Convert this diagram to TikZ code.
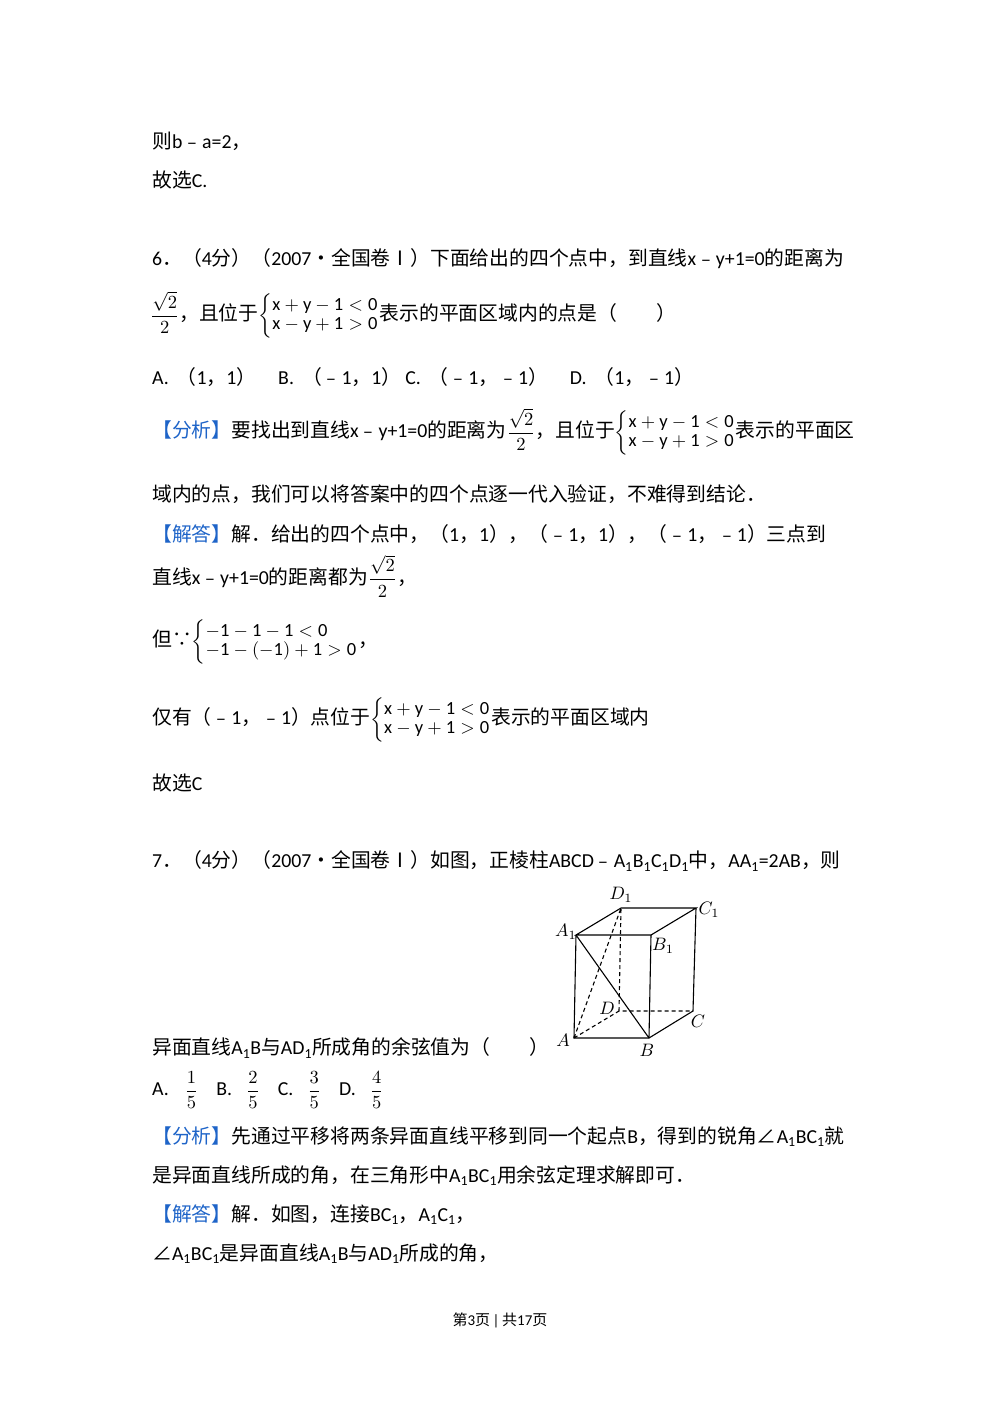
\documentclass[tikz,border=0pt]{standalone}
\usepackage{graphicx}
\usepackage{fontspec}
\setmainfont{Carlito}
\newfontfamily\cjk{Noto Sans CJK SC}
\newcommand\zh[1]{{\cjk #1}}
\newcommand\subn[1]{\textsubscript{#1}}
\newcommand\sysx[2]{\scalebox{1.85}{\fontsize{10}{12}\selectfont$\left\{\renewcommand\arraystretch{0.85}\begin{array}{@{}l@{}}\mathrm{#1}\\\mathrm{#2}\end{array}\right.$}}
\newcommand\hf{\scalebox{1.85}{\fontsize{10}{12}\selectfont$\displaystyle\frac{\sqrt{2}}{2}$}}
\newcommand\fr[1]{\scalebox{1.85}{\fontsize{10}{12}\selectfont$\displaystyle\frac{#1}{5}$}}
\definecolor{hb}{RGB}{30,100,200}
\begin{document}
\begin{tikzpicture}[x=1pt,y=-1pt,
 t/.style={anchor=west,inner sep=0pt,font=\fontsize{19.8}{23}\selectfont},
 e/.style={line width=1.1pt},
 h/.style={line width=1.1pt,dash pattern=on 4pt off 3pt},
 lab/.style={inner sep=0pt,font=\fontsize{10}{12}\selectfont}]
\useasboundingbox (0,0) rectangle (1000,1414);
\node[t] (l1) at (152,141) {\zh{则}b\zh{﹣}a=2\zh{，}};
\node[t] (l2) at (152,180) {\zh{故选}C.};
\node[t] (l3) at (152,259) {6\zh{．（}4\zh{分）（}2007\zh{•全国卷Ⅰ）下面给出的四个点中，到直线}x\zh{﹣}y+1=0\zh{的距离为}};
\node[t] (l4) at (150,315) {\hf\zh{，且位于}\sysx{x+y-1<0}{x-y+1>0}\zh{表示的平面区域内的点是（　　）}};
\node[t] (l5) at (152,377) {A.\hspace{8pt}\zh{（}1\zh{，}1\zh{）}\hspace{22pt}B.\hspace{8pt}\zh{（﹣}1\zh{，}1\zh{）}\hspace{4pt}C.\hspace{8pt}\zh{（﹣}1\zh{，﹣}1\zh{）}\hspace{22pt}D.\hspace{8pt}\zh{（}1\zh{，﹣}1\zh{）}};
\node[t] (l6) at (152,432) {\textcolor{hb}{\zh{【分析】}}\zh{要找出到直线}x\zh{﹣}y+1=0\zh{的距离为}\hf\zh{，且位于}\sysx{x+y-1<0}{x-y+1>0}\zh{表示的平面区}};
\node[t] (l7) at (152,494) {\zh{域内的点，我们可以将答案中的四个点逐一代入验证，不难得到结论．}};
\node[t] (l8) at (152,534) {\textcolor{hb}{\zh{【解答】}}\zh{解．给出的四个点中，（}1\zh{，}1\zh{），（﹣}1\zh{，}1\zh{），（﹣}1\zh{，﹣}1\zh{）三点到}};
\node[t] (l9) at (152,576) {\zh{直线}x\zh{﹣}y+1=0\zh{的距离都为}\hf\zh{，}};
\node[t] (l10) at (152,642) {\zh{但∵}\sysx{-1-1-1<0}{-1-(-1)+1>0}\zh{，}};
\node[t] (l11) at (152,720) {\zh{仅有（﹣}1\zh{，﹣}1\zh{）点位于}\sysx{x+y-1<0}{x-y+1>0}\zh{表示的平面区域内}};
\node[t] (l12) at (152,783) {\zh{故选}C};
\node[t] (l13) at (152,861) {7\zh{．（}4\zh{分）（}2007\zh{•全国卷Ⅰ）如图，正棱柱}ABCD\zh{﹣}A\subn1B\subn1C\subn1D\subn1\zh{中，}AA\subn1=2AB\zh{，则}};
\node[t] (l14) at (152,1048) {\zh{异面直线}A\subn1B\zh{与}AD\subn1\zh{所成角的余弦值为（　　）}};
\node[t] (l15) at (152,1090) {A.\hspace{16pt}\fr1\hspace{18pt}B.\hspace{14pt}\fr2\hspace{18pt}C.\hspace{14pt}\fr3\hspace{18pt}D.\hspace{14pt}\fr4};
\node[t] (l16) at (152,1137) {\textcolor{hb}{\zh{【分析】}}\zh{先通过平移将两条异面直线平移到同一个起点}B\zh{，得到的锐角∠}A\subn1BC\subn1\zh{就}};
\node[t] (l17) at (152,1176) {\zh{是异面直线所成的角，在三角形中}A\subn1BC\subn1\zh{用余弦定理求解即可．}};
\node[t] (l18) at (152,1215) {\textcolor{hb}{\zh{【解答】}}\zh{解．如图，连接}BC\subn1\zh{，}A\subn1C\subn1\zh{，}};
\node[t] (l19) at (152,1254) {\zh{∠}A\subn1BC\subn1\zh{是异面直线}A\subn1B\zh{与}AD\subn1\zh{所成的角，}};
\node[inner sep=0pt,font=\fontsize{15}{17}\selectfont] (ft) at (500,1320) {\zh{第}3\zh{页}\,|\,\zh{共}17\zh{页}};
\coordinate (A1) at (576,935); \coordinate (B1) at (651,935);
\coordinate (C1) at (696,908); \coordinate (D1) at (621,908);
\coordinate (A) at (574,1038); \coordinate (B) at (649,1038);
\coordinate (C) at (693,1011); \coordinate (D) at (619,1011);
\draw[e] (A1)--(B1)--(C1)--(D1)--cycle;
\draw[e] (A1)--(A)--(B)--(C)--(C1);
\draw[e] (B1)--(B) (A1)--(B);
\draw[h] (A)--(D)--(C) (D)--(D1) (A)--(D1);
\node[lab] (tA1) at (566,932) {\scalebox{1.8}{$A_1$}};
\node[lab] (tB1) at (663,946) {\scalebox{1.8}{$B_1$}};
\node[lab] (tC1) at (709,910) {\scalebox{1.8}{$C_1$}};
\node[lab] (tD1) at (621,895) {\scalebox{1.8}{$D_1$}};
\node[lab] (tA) at (563,1040) {\scalebox{1.8}{$A$}};
\node[lab] (tB) at (647,1050) {\scalebox{1.8}{$B$}};
\node[lab] (tC) at (698,1021) {\scalebox{1.8}{$C$}};
\node[lab] (tD) at (607,1008) {\scalebox{1.8}{$D$}};
\end{tikzpicture}
\end{document}
